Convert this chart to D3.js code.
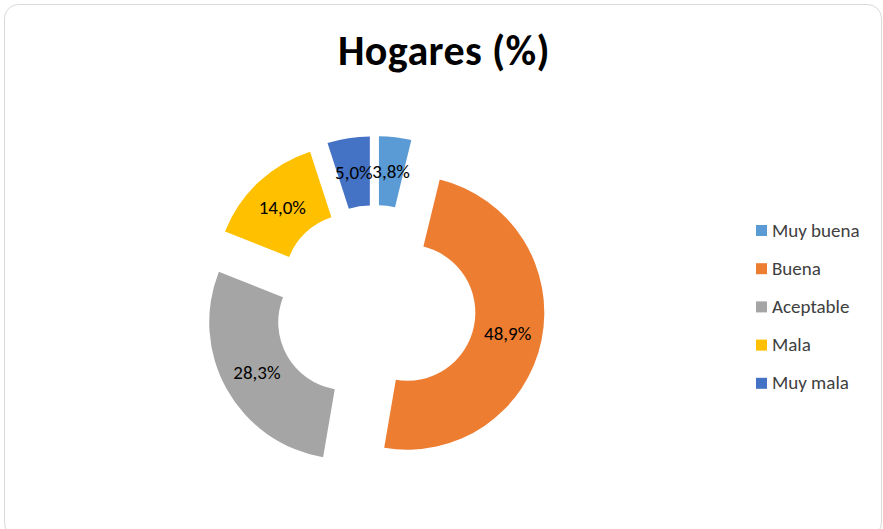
<!DOCTYPE html>
<html>
<head>
<meta charset="utf-8">
<script src="https://cdn.jsdelivr.net/npm/d3@7"></script>
<style>
  html, body { margin: 0; padding: 0; background: #fff; }
  svg { display: block; font-family: Calibri, Carlito, Lato, sans-serif; }
</style>
</head>
<body>
<div id="chart"></div>
<script>
const categories = ['Muy buena', 'Buena', 'Aceptable', 'Mala', 'Muy mala']
const values = [3.8, 48.9, 28.3, 14.0, 5.0]
const colors = ['#5b9bd5', '#ed7d31', '#a5a5a5', '#ffc000', '#4472c4']
const title = 'Hogares (%)'

const width = 883
const height = 529
const cx = 375
const cy = 306
const outerR = 137
const innerR = 68
const explode = 33

const svg = d3.select('#chart')
  .append('svg')
  .attr('width', width)
  .attr('height', height)

svg.append('rect')
  .attr('x', 4.5).attr('y', 4.5)
  .attr('width', 877).attr('height', 532)
  .attr('rx', 14)
  .attr('fill', '#fff')
  .attr('stroke', '#d9d9d9')
  .attr('stroke-width', 1)

svg.append('text')
  .attr('x', 444)
  .attr('y', 65)
  .attr('text-anchor', 'middle')
  .attr('font-size', 42)
  .attr('font-weight', 'bold')
  .attr('letter-spacing', 0.4)
  .attr('fill', '#000')
  .text(title)

const data = categories.map((c, i) => ({ label: c, value: values[i], color: colors[i] }))

const pie = d3.pie().sort(null).value(d => d.value)
const arc = d3.arc().innerRadius(innerR).outerRadius(outerR)
const arcs = pie(data)

// offset each slice outward along its bisector
const shift = d => {
  const a = (d.startAngle + d.endAngle) / 2
  return [Math.sin(a) * explode, -Math.cos(a) * explode]
}

const g = svg.append('g').attr('transform', `translate(${cx},${cy})`)

const slice = g.selectAll('g.slice')
  .data(arcs)
  .join('g')
  .attr('class', 'slice')
  .attr('transform', d => `translate(${shift(d)})`)

slice.append('path')
  .attr('d', arc)
  .attr('fill', d => d.data.color)

slice.append('text')
  .attr('transform', d => `translate(${arc.centroid(d)})`)
  .attr('text-anchor', 'middle')
  .attr('dy', '0.35em')
  .attr('font-size', 19)
  .attr('fill', '#000')
  .text(d => d3.format('.1f')(d.data.value).replace('.', ',') + '%')

const legend = svg.append('g').attr('transform', 'translate(756,230)')

const item = legend.selectAll('g')
  .data(data)
  .join('g')
  .attr('transform', (d, i) => `translate(0,${i * 38.2})`)

item.append('rect')
  .attr('x', 0).attr('y', -5)
  .attr('width', 11).attr('height', 11)
  .attr('fill', d => d.color)

item.append('text')
  .attr('x', 16)
  .attr('dy', '0.35em')
  .attr('font-size', 19)
  .attr('fill', '#404040')
  .text(d => d.label)
</script>
</body>
</html>
